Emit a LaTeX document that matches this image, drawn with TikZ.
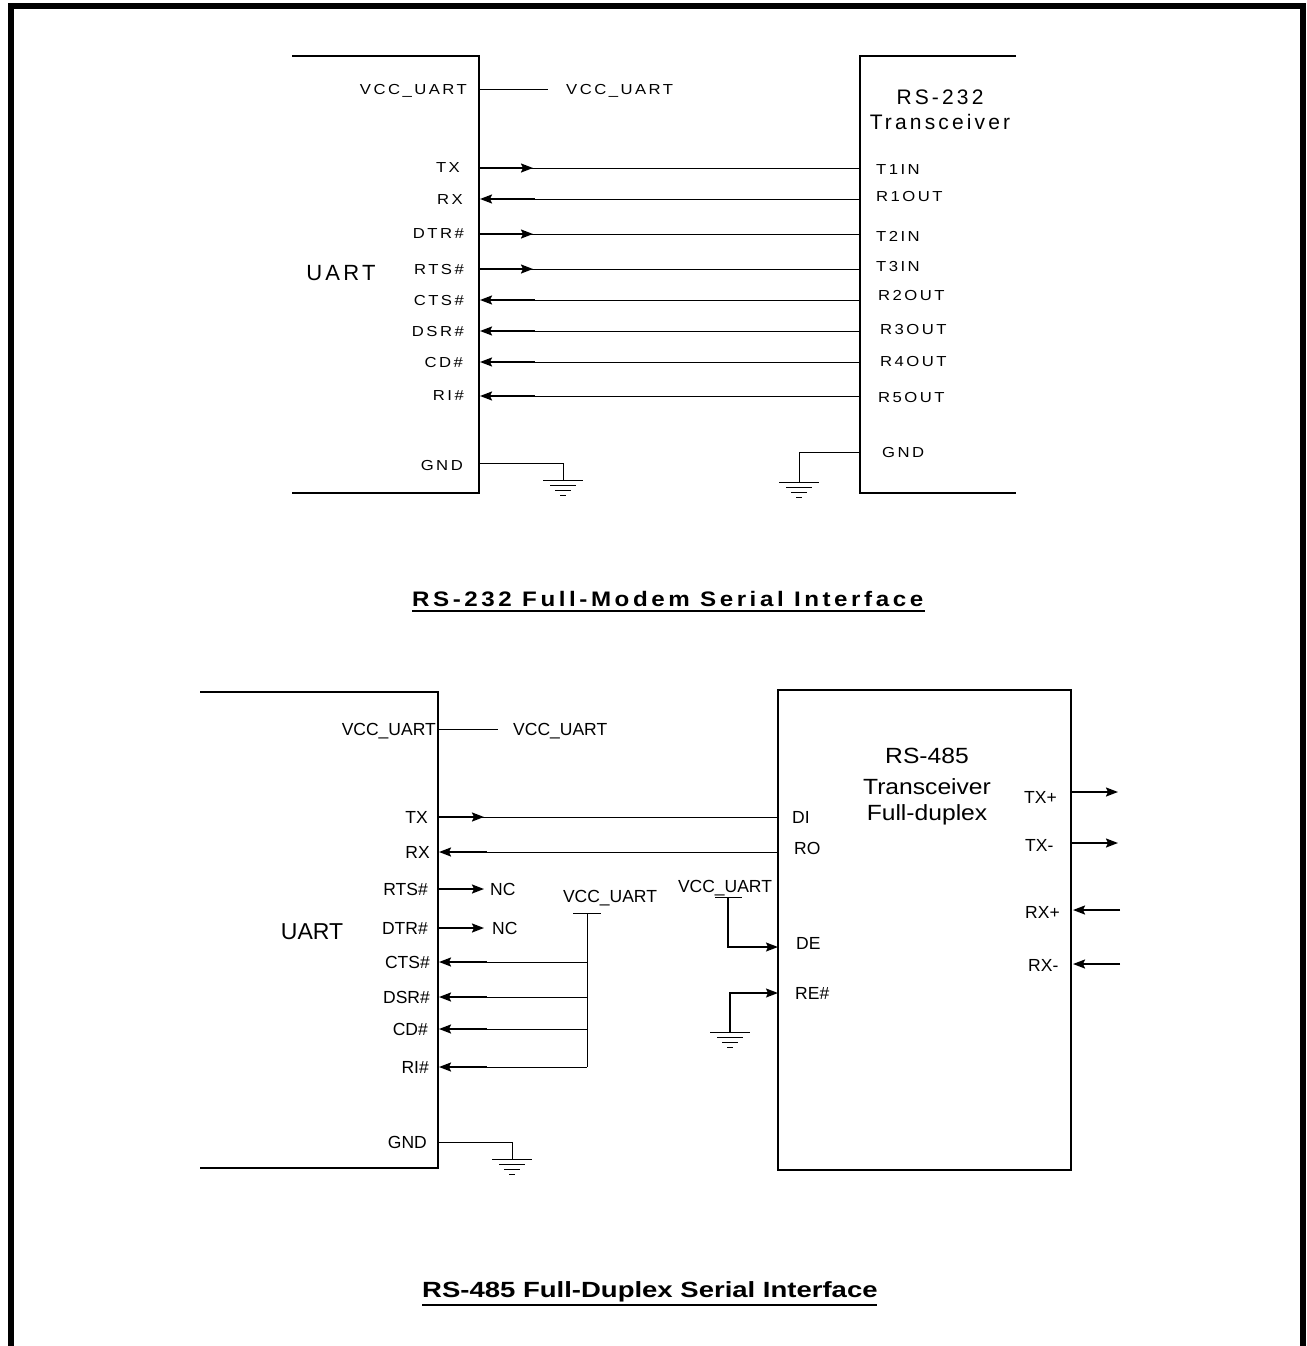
\documentclass[tikz,border=0pt]{standalone}
\usepackage{fontspec}
\setmainfont{Liberation Sans}
\newfontfamily\lsPin[FakeStretch=1.15, LetterSpace=17]{Liberation Sans}
\newfontfamily\lsBig[LetterSpace=15]{Liberation Sans}
\newfontfamily\lsTitle[FakeStretch=1.15, LetterSpace=17]{Liberation Sans}
\newfontfamily\wideB[FakeStretch=1.12]{Liberation Sans}
\newfontfamily\wideT[FakeStretch=1.25]{Liberation Sans}
\usetikzlibrary{arrows.meta}
\begin{document}
\begin{tikzpicture}[x=1pt,y=-1pt,
  wire/.style={line width=0.9pt},
  pinw/.style={line width=1.8pt},
  arr/.style={-{Stealth[length=12pt,width=9pt,inset=2pt]}},
  boxA/.style={line width=1.3pt},
  boxB/.style={line width=2.2pt},
  tp/.style={font=\lsPin\fontsize{14.5}{16}\selectfont, inner sep=0pt, text depth=0pt},
  tbig/.style={font=\lsBig\fontsize{21}{24}\selectfont, inner sep=0pt, text depth=0pt},
  bp/.style={font=\fontsize{17.5}{20}\selectfont, inner sep=0pt, text depth=0pt},
  bbig/.style={font=\wideB\fontsize{22}{26}\selectfont, inner sep=0pt, text depth=0pt},
  ttl/.style={font=\lsTitle\bfseries\fontsize{21}{24}\selectfont, inner sep=0pt},
  pics/gnd/.style={code={
    \draw[wire] (-20,0) -- (20,0);
    \draw[wire] (-13,5) -- (13,5);
    \draw[wire] (-8,10) -- (8,10);
    \draw[wire] (-3,15) -- (3,15);
  }}
]
\useasboundingbox (0,0) rectangle (1306,1346);
% outer frame
\draw[line width=6pt, line join=miter] (11,1350) -- (11,6) -- (1303,6) -- (1303,1350);

% ================= TOP: RS-232 =================
\draw[boxA] (292,56) -- (479,56) -- (479,493) -- (292,493);
\draw[boxA] (1016,56) -- (860,56) -- (860,493) -- (1016,493);
\node[tbig, font=\lsBig\fontsize{22}{24}\selectfont] (uart1) at (341,273) {UART};
\node[tbig] (rs232) at (940,97) {RS-232};
\node[tbig] (trx1) at (940,122) {Transceiver};

% left pins
\foreach \nm/\txt/\xx/\yy in {VCC/VCC\_UART/467/89, TX/TX/460/168, RX/RX/463/200, DTR/DTR\#/464/234,
  RTS/RTS\#/464/269, CTS/CTS\#/464/300, DSR/DSR\#/464/331, CD/CD\#/463/362, RI/RI\#/464/396, GND/GND/463/465}
  \node[tp, anchor=east] (lA\nm) at (\xx,\yy) {\txt};
% right pins
\foreach \nm/\txt/\xx/\yy in {T1/T1IN/876/170, R1/R1OUT/876/196, T2/T2IN/876/236, T3/T3IN/876/266,
  R2/R2OUT/878/295, R3/R3OUT/880/329, R4/R4OUT/880/361, R5/R5OUT/878/397, G/GND/882/452}
  \node[tp, anchor=west] (rA\nm) at (\xx,\yy) {\txt};
\node[tp, anchor=west] (vccA) at (566,89) {VCC\_UART};

% pin coordinates
\foreach \nm/\yy in {VCC/89, TX/168, RX/199, DTR/234, RTS/269, CTS/300, DSR/331, CD/362, RI/396, GND/463}
  \coordinate (pA\nm) at (479,\yy);
\foreach \nm/\yy in {TX/168, RX/199, DTR/234, RTS/269, CTS/300, DSR/331, CD/362, RI/396, G/452}
  \coordinate (qA\nm) at (860,\yy);
\coordinate (vccAend) at (548,89);
\draw[wire] (pAVCC) -- (vccAend);

% outputs (UART -> transceiver)
\foreach \nm in {TX, DTR, RTS}{
  \draw[wire] (pA\nm) -- (qA\nm);
  \draw[pinw, arr] (pA\nm) -- ([xshift=54pt]pA\nm);
}
% inputs (transceiver -> UART)
\foreach \nm in {RX, CTS, DSR, CD, RI}{
  \draw[wire] (qA\nm) -- ([xshift=56pt]pA\nm);
  \draw[pinw, arr] ([xshift=56pt]pA\nm) -- ([xshift=1pt]pA\nm);
}
% grounds
\coordinate (gA1) at (563,480);
\draw[wire] (pAGND) -- (563,463) -- (gA1);
\pic at (gA1) {gnd};
\coordinate (gA2) at (799,482);
\draw[wire] (qAG) -- (799,452) -- (gA2);
\pic at (gA2) {gnd};

% title 1
\node[ttl, anchor=base west] (t1) at (412,606) {RS-232 Full-Modem Serial Interface};
\draw[line width=1.6pt] (412,611) -- (925,611);

% ================= BOTTOM: RS-485 =================
\draw[boxB] (200,692) -- (438,692) -- (438,1168) -- (200,1168);
\draw[boxB] (778,690) rectangle (1071,1170);
\node[bbig, font=\fontsize{23}{26}\selectfont] (uart2) at (312,932) {UART};
\node[bbig] (rs485) at (927,756) {RS-485};
\node[bbig] (trx2) at (927,787) {Transceiver};
\node[bbig] (fdx) at (927,813) {Full-duplex};

\foreach \nm/\txt/\xx/\yy in {VCC/VCC\_UART/436/729, TX/TX/428/817, RX/RX/430/852, RTS/RTS\#/428/889, DTR/DTR\#/428/928,
  CTS/CTS\#/430/962, DSR/DSR\#/430/997, CD/CD\#/428/1029, RI/RI\#/429/1067, GND/GND/427/1142}
  \node[bp, anchor=east] (lB\nm) at (\xx,\yy) {\txt};
\foreach \nm/\yy in {VCC/729, TX/817, RX/852, RTS/889, DTR/928, CTS/962, DSR/997, CD/1029, RI/1067, GND/1142}
  \coordinate (pB\nm) at (438,\yy);

\node[bp, anchor=west] (vccB1) at (513,729) {VCC\_UART};
\node[bp, anchor=west] (nc1) at (490,889) {NC};
\node[bp, anchor=west] (nc2) at (492,928) {NC};
\node[bp] (vccB2) at (610,896) {VCC\_UART};
\node[bp] (vccB3) at (725,886) {VCC\_UART};

\node[bp, anchor=west] (di) at (792,817) {DI};
\node[bp, anchor=west] (ro) at (794,848) {RO};
\node[bp, anchor=west] (de) at (796,943) {DE};
\node[bp, anchor=west] (re) at (795,993) {RE\#};
\node[bp, anchor=west] (txp) at (1024,797) {TX+};
\node[bp, anchor=west] (txm) at (1025,845) {TX-};
\node[bp, anchor=west] (rxp) at (1025,912) {RX+};
\node[bp, anchor=west] (rxm) at (1028,965) {RX-};

\coordinate (vccBend) at (498,729);
\draw[wire] (pBVCC) -- (vccBend);

\coordinate (qDI) at (778,817);
\coordinate (qRO) at (778,852);
\draw[wire] (pBTX) -- (qDI);
\draw[pinw, arr] (pBTX) -- ([xshift=46pt]pBTX);
\draw[wire] (qRO) -- ([xshift=49pt]pBRX);
\draw[pinw, arr] ([xshift=49pt]pBRX) -- ([xshift=1pt]pBRX);
\draw[pinw, arr] (pBRTS) -- (484,889);
\draw[pinw, arr] (pBDTR) -- (484,928);

% VCC bus for modem inputs
\coordinate (busTop) at (587,913);
\coordinate (busBot) at (587,1067);
\draw[wire] (573,913) -- (601,913);
\draw[wire] (busTop) -- (busBot);
\foreach \nm in {CTS, DSR, CD, RI}{
  \draw[wire] ([xshift=49pt]pB\nm) -- (587,0 |- pB\nm);
  \draw[pinw, arr] ([xshift=49pt]pB\nm) -- ([xshift=1pt]pB\nm);
}

% DE / RE#
\coordinate (deV) at (728,897);
\coordinate (qDE) at (778,947);
\coordinate (qRE) at (778,993);
\coordinate (gB2) at (730,1032);
\draw[wire] (715,897) -- (742,897);
\draw[line width=1.4pt, arr] (deV) |- (qDE);
\draw[line width=1.4pt, arr] (gB2) |- (qRE);
\pic at (gB2) {gnd};

% differential side
\coordinate (qTXp) at (1071,792);
\coordinate (qTXm) at (1071,843);
\coordinate (qRXp) at (1071,910);
\coordinate (qRXm) at (1071,964);
\draw[pinw, arr] (qTXp) -- (1118,792);
\draw[pinw, arr] (qTXm) -- (1118,843);
\draw[pinw, arr] (1120,910) -- ([xshift=2pt]qRXp);
\draw[pinw, arr] (1120,964) -- ([xshift=2pt]qRXm);

% ground
\coordinate (gB1) at (512,1159);
\draw[wire] (pBGND) -- (512,1142) -- (gB1);
\pic at (gB1) {gnd};

% title 2
\node[ttl, font=\wideT\bfseries\fontsize{22}{26}\selectfont, anchor=base west] (t2) at (422,1297) {RS-485 Full-Duplex Serial Interface};
\draw[line width=1.6pt] (422,1305) -- (877,1305);
\end{tikzpicture}
\end{document}
